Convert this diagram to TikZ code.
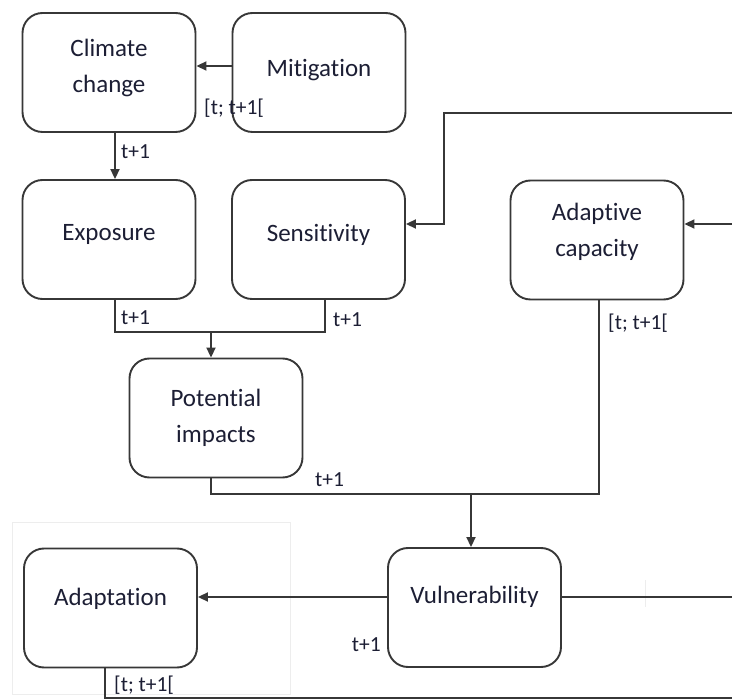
\documentclass[tikz,border=0pt]{standalone}
\usepackage{fontspec}
\setmainfont[Ligatures=NoCommon]{Carlito}
\usetikzlibrary{arrows.meta}
\definecolor{ink}{RGB}{28,30,52}
\definecolor{edge}{RGB}{55,55,55}
\begin{document}
\begin{tikzpicture}[x=1pt,y=-1pt,
  box/.style={draw=edge, line width=1.9pt, rounded corners=20pt,
    minimum width=173pt, minimum height=119pt, inner sep=0pt},
  lbl/.style={text=ink, font=\fontsize{25}{36}\selectfont, align=center},
  tag/.style={text=ink, font=\fontsize{21.5}{24}\selectfont, inner sep=0pt, anchor=west},
  link/.style={draw=edge, line width=1.9pt},
  arr/.style={link, -{Triangle[length=10pt,width=9pt]}},
  faint/.style={draw=black!7, line width=1pt}]
\useasboundingbox (0,0) rectangle (732,700);

% faint frame behind the adaptation block
\draw[faint] (12,523) rectangle (290,695);
\draw[faint] (645,580) -- (645,607);

% boxes
\node[box] (cc)  at (109,72.5) {};
\node[box] (mit) at (319,72.5) {};
\node[box] (exp) at (109,239.5) {};
\node[box] (sen) at (318.5,239.5) {};
\node[box] (ac)  at (597,240) {};
\node[box] (pi)  at (216,418) {};
\node[box] (vul) at (474.5,607.5) {};
\node[box] (ada) at (110.5,608) {};

% box texts
\node[lbl] (cc-t)  at ([yshift=5pt]cc.center) {Climate\\change};
\node[lbl] (mit-t) at ([yshift=2.5pt]mit.center) {Mitigation};
\node[lbl] (exp-t) at ([yshift=5pt]exp.center) {Exposure};
\node[lbl] (sen-t) at ([yshift=5pt]sen.center) {Sensitivity};
\node[lbl] (ac-t)  at ([yshift=8pt]ac.center) {Adaptive\\capacity};
\node[lbl] (pi-t)  at ([yshift=0pt]pi.center) {Potential\\impacts};
\node[lbl] (vul-t) at ([yshift=11pt]vul.center) {Vulnerability};
\node[lbl] (ada-t) at ([yshift=9pt]ada.center) {Adaptation};

% mitigation -> climate change
\coordinate (m1) at ([yshift=6.5pt]mit.west);
\draw[arr] (m1) -- (m1 -| cc.east);
% climate change -> exposure
\draw[arr] ([xshift=6pt]cc.south) -- ([xshift=6pt]exp.north);
% exposure + sensitivity -> potential impacts
\coordinate (j1) at (211,332);
\draw[link] ([xshift=6pt]exp.south) |- (j1) -| ([xshift=6.5pt]sen.south);
\draw[arr] (j1) -- (j1 |- pi.north);
% potential impacts + adaptive capacity -> vulnerability
\coordinate (j2) at (471,494);
\draw[link] ([xshift=-5pt]pi.south) |- (j2) -| ([xshift=2pt]ac.south);
\draw[arr] (j2) -- (j2 |- vul.north);
% feedback lines entering from the right
\coordinate (r1) at (732,113);
\coordinate (r2) at (444,113);
\draw[arr] (r1) -- (r2) |- ([yshift=15.5pt]sen.east);
\coordinate (r3) at (732,224);
\draw[arr] (r3) -- (r3 -| ac.east);
% vulnerability -> adaptation, and onward to the right
\coordinate (v1) at ([yshift=10.5pt]vul.west);
\draw[arr] (v1) -- (v1 -| ada.east);
\coordinate (r4) at (732,597);
\draw[link] (v1 -| vul.east) -- (r4);
\coordinate (r5) at (732,698);
\draw[link] ([xshift=-5.5pt]ada.south) |- (r5);

% time labels
\node[tag] (l1) at (204,108) {[t; t+1[};
\node[tag] (l2) at (121,152) {t+1};
\node[tag] (l3) at (121,318) {t+1};
\node[tag] (l4) at (333,320) {t+1};
\node[tag] (l5) at (315,480) {t+1};
\node[tag] (l6) at (608,323) {[t; t+1[};
\node[tag, anchor=east] (l7) at (381,645) {t+1};
\node[tag] (l8) at (114,685) {[t; t+1[};
\end{tikzpicture}
\end{document}
